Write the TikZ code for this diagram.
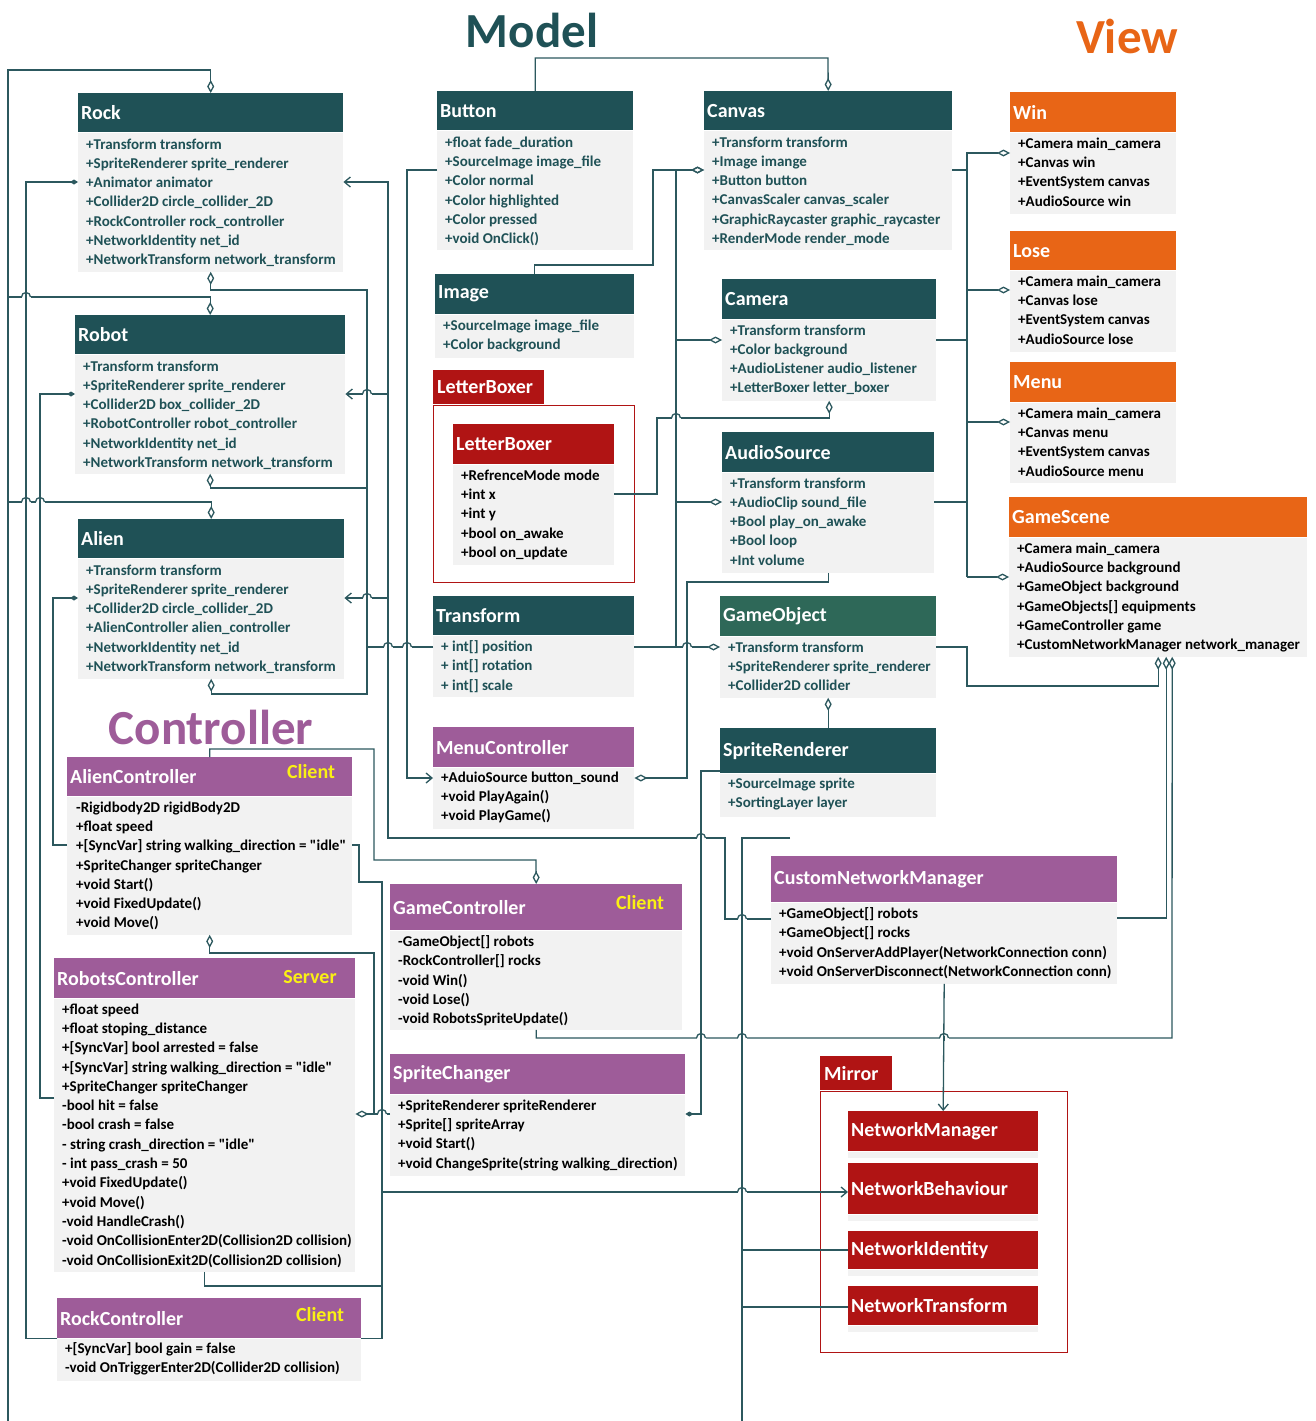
\documentclass[tikz,border=0pt]{standalone}
\usepackage{fontspec}
\setmainfont{Carlito}[Ligatures=TeXOff]
\usepackage{xcolor}
\usepackage{tikz}
\usetikzlibrary{arrows.meta, positioning, calc}
\definecolor{modelteal}{RGB}{31, 81, 86}
\definecolor{gogreen}{RGB}{46, 104, 88}
\definecolor{vieworange}{RGB}{232, 101, 22}
\definecolor{mirrorred}{RGB}{176, 20, 20}
\definecolor{ctlpurple}{RGB}{158, 92, 153}
\definecolor{bodygray}{RGB}{242, 242, 242}
\definecolor{linecol}{RGB}{44, 88, 94}
\definecolor{clientyellow}{RGB}{250, 240, 20}

\begin{document}
\begin{tikzpicture}[x=1pt, y=-1pt,
    hdr/.style={anchor=north west, inner xsep=3pt, inner ysep=0pt, align=left, text=white, font=\fontsize{20}{24}\selectfont\bfseries},
    body/.style={anchor=north west, fill=bodygray, inner sep=0pt},
    attrs/.style={anchor=north west, inner sep=0pt, align=left, font=\fontsize{15}{19.3}\selectfont\bfseries},
    grouptag/.style={anchor=north west, fill=mirrorred, text=white, inner xsep=4pt, inner ysep=0pt, align=left, font=\fontsize{20}{24}\selectfont\bfseries},
    redframe/.style={draw=mirrorred, line width=0.8pt},
    grouptitle/.style={font=\fontsize{49}{55}\selectfont\bfseries, inner sep=0pt},
    client/.style={text=clientyellow, font=\fontsize{20}{24}\selectfont\bfseries, inner sep=0pt},
    conn/.style={draw=linecol, line width=1.3pt},
    aggr/.style={conn, -{Diamond[open, length=13pt, width=7pt]}},
    comp/.style={conn, -{Diamond[length=8pt, width=5pt]}},
    arr/.style={conn, -{Straight Barb[length=6pt, width=10pt]}}
]
    \fill[white] (0,0) rectangle (1316,1421);
    \useasboundingbox (0,0) rectangle (1316,1421);

    % Group titles
    \node[grouptitle, text=modelteal] (modelT) at (532,30) {Model};
    \node[grouptitle, text=vieworange] (viewT) at (1127,36) {View};
    \node[grouptitle, text=ctlpurple] (ctlT) at (211,727) {Controller};

    % ---------- Model ----------
    \node[hdr, fill=modelteal, text width=259pt, minimum height=39pt] (rock) at (78,93) {Rock};
    \node[body, minimum width=265pt, minimum height=139pt] (rockB) at (rock.south west) {};
    \node[attrs, text=modelteal] (rockA) at ([shift={(8,6)}]rockB.north west) {+Transform transform\\+SpriteRenderer sprite\_renderer\\+Animator animator\\+Collider2D circle\_collider\_2D\\+RockController rock\_controller\\+NetworkIdentity net\_id\\+NetworkTransform network\_transform};

    \node[hdr, fill=modelteal, text width=264pt, minimum height=39pt] (robot) at (75,315) {Robot};
    \node[body, minimum width=270pt, minimum height=119pt] (robotB) at (robot.south west) {};
    \node[attrs, text=modelteal] (robotA) at ([shift={(8,6)}]robotB.north west) {+Transform transform\\+SpriteRenderer sprite\_renderer\\+Collider2D box\_collider\_2D\\+RobotController robot\_controller\\+NetworkIdentity net\_id\\+NetworkTransform network\_transform};

    \node[hdr, fill=modelteal, text width=260pt, minimum height=39pt] (alien) at (78,519) {Alien};
    \node[body, minimum width=266pt, minimum height=120pt] (alienB) at (alien.south west) {};
    \node[attrs, text=modelteal] (alienA) at ([shift={(8,6)}]alienB.north west) {+Transform transform\\+SpriteRenderer sprite\_renderer\\+Collider2D circle\_collider\_2D\\+AlienController alien\_controller\\+NetworkIdentity net\_id\\+NetworkTransform network\_transform};

    \node[hdr, fill=modelteal, text width=190pt, minimum height=39pt] (button) at (437,91) {Button};
    \node[body, minimum width=196pt, minimum height=119pt] (buttonB) at (button.south west) {};
    \node[attrs, text=modelteal] (buttonA) at ([shift={(8,6)}]buttonB.north west) {+float fade\_duration\\+SourceImage image\_file\\+Color normal\\+Color highlighted\\+Color pressed\\+void OnClick()};

    \node[hdr, fill=modelteal, text width=193pt, minimum height=40pt] (image) at (435,274) {Image};
    \node[body, minimum width=199pt, minimum height=43pt] (imageB) at (image.south west) {};
    \node[attrs, text=modelteal] (imageA) at ([shift={(8,5)}]imageB.north west) {+SourceImage image\_file\\+Color background};

    \node[hdr, fill=modelteal, text width=195pt, minimum height=39pt] (transform) at (433,596) {Transform};
    \node[body, minimum width=201pt, minimum height=61pt] (transformB) at (transform.south west) {};
    \node[attrs, text=modelteal] (transformA) at ([shift={(8,5)}]transformB.north west) {+ int[] position\\+ int[] rotation\\+ int[] scale};

    \node[hdr, fill=modelteal, text width=242pt, minimum height=39pt] (canvas) at (704,91) {Canvas};
    \node[body, minimum width=248pt, minimum height=119pt] (canvasB) at (canvas.south west) {};
    \node[attrs, text=modelteal] (canvasA) at ([shift={(8,6)}]canvasB.north west) {+Transform transform\\+Image imange\\+Button button\\+CanvasScaler canvas\_scaler\\+GraphicRaycaster graphic\_raycaster\\+RenderMode render\_mode};

    \node[hdr, fill=modelteal, text width=208pt, minimum height=40pt] (camera) at (722,279) {Camera};
    \node[body, minimum width=214pt, minimum height=81pt] (cameraB) at (camera.south west) {};
    \node[attrs, text=modelteal] (cameraA) at ([shift={(8,5)}]cameraB.north west) {+Transform transform\\+Color background\\+AudioListener audio\_listener\\+LetterBoxer letter\_boxer};

    \node[hdr, fill=modelteal, text width=206pt, minimum height=40pt] (audiosrc) at (722,432) {AudioSource};
    \node[body, minimum width=212pt, minimum height=100pt] (audiosrcB) at (audiosrc.south west) {};
    \node[attrs, text=modelteal] (audiosrcA) at ([shift={(8,5)}]audiosrcB.north west) {+Transform transform\\+AudioClip sound\_file\\+Bool play\_on\_awake\\+Bool loop\\+Int volume};

    \node[hdr, fill=gogreen, text width=210pt, minimum height=40pt] (gameobj) at (720,596) {GameObject};
    \node[body, minimum width=216pt, minimum height=61pt] (gameobjB) at (gameobj.south west) {};
    \node[attrs, text=modelteal] (gameobjA) at ([shift={(8,5)}]gameobjB.north west) {+Transform transform\\+SpriteRenderer sprite\_renderer\\+Collider2D collider};

    \node[hdr, fill=modelteal, text width=210pt, minimum height=45pt] (spriterend) at (720,728) {SpriteRenderer};
    \node[body, minimum width=216pt, minimum height=43pt] (spriterendB) at (spriterend.south west) {};
    \node[attrs, text=modelteal] (spriterendA) at ([shift={(8,4)}]spriterendB.north west) {+SourceImage sprite\\+SortingLayer layer};

    % LetterBoxer package
    \node[grouptag, text width=103pt, minimum height=34pt] (lbtag) at (433,370) {LetterBoxer};
    \draw[redframe] (433,405) rectangle (634,582);
    \node[hdr, fill=mirrorred, text width=155pt, minimum height=40pt] (letterbox) at (453,424) {LetterBoxer};
    \node[body, minimum width=161pt, minimum height=100pt] (letterboxB) at (letterbox.south west) {};
    \node[attrs] (letterboxA) at ([shift={(8,5)}]letterboxB.north west) {+RefrenceMode mode\\+int x\\+int y\\+bool on\_awake\\+bool on\_update};

    % ---------- View ----------
    \node[hdr, fill=vieworange, text width=160pt, minimum height=40pt] (win) at (1010,92) {Win};
    \node[body, minimum width=166pt, minimum height=81pt] (winB) at (win.south west) {};
    \node[attrs] (winA) at ([shift={(8,5)}]winB.north west) {+Camera main\_camera\\+Canvas win\\+EventSystem canvas\\+AudioSource win};

    \node[hdr, fill=vieworange, text width=160pt, minimum height=39pt] (lose) at (1010,231) {Lose};
    \node[body, minimum width=166pt, minimum height=81pt] (loseB) at (lose.south west) {};
    \node[attrs] (loseA) at ([shift={(8,5)}]loseB.north west) {+Camera main\_camera\\+Canvas lose\\+EventSystem canvas\\+AudioSource lose};

    \node[hdr, fill=vieworange, text width=160pt, minimum height=40pt] (menu) at (1010,362) {Menu};
    \node[body, minimum width=166pt, minimum height=80pt] (menuB) at (menu.south west) {};
    \node[attrs] (menuA) at ([shift={(8,5)}]menuB.north west) {+Camera main\_camera\\+Canvas menu\\+EventSystem canvas\\+AudioSource menu};

    \node[hdr, fill=vieworange, text width=292pt, minimum height=40pt] (gamescene) at (1009,497) {GameScene};
    \node[body, minimum width=298pt, minimum height=119pt] (gamesceneB) at (gamescene.south west) {};
    \node[attrs] (gamesceneA) at ([shift={(8,5)}]gamesceneB.north west) {+Camera main\_camera\\+AudioSource background\\+GameObject background\\+GameObjects[] equipments\\+GameController game\\+CustomNetworkManager network\_manager};

    % ---------- Controller ----------
    \node[hdr, fill=ctlpurple, text width=279pt, minimum height=39pt] (alienctl) at (67,757) {AlienController};
    \node[client] (alienctlC) at (311,772) {Client};
    \node[body, minimum width=285pt, minimum height=138pt] (alienctlB) at (alienctl.south west) {};
    \node[attrs] (alienctlA) at ([shift={(9,5)}]alienctlB.north west) {-Rigidbody2D rigidBody2D\\+float speed\\+[SyncVar] string walking\_direction = "idle"\\+SpriteChanger spriteChanger\\+void Start()\\+void FixedUpdate()\\+void Move()};

    \node[hdr, fill=ctlpurple, text width=295pt, minimum height=40pt] (robotsctl) at (54,958) {RobotsController};
    \node[client] (robotsctlC) at (310,977) {Server};
    \node[body, minimum width=301pt, minimum height=273pt] (robotsctlB) at (robotsctl.south west) {};
    \node[attrs] (robotsctlA) at ([shift={(8,5)}]robotsctlB.north west) {+float speed\\+float stoping\_distance\\+[SyncVar] bool arrested = false\\+[SyncVar] string walking\_direction = "idle"\\+SpriteChanger spriteChanger\\-bool hit = false\\-bool crash = false\\- string crash\_direction = "idle"\\- int pass\_crash = 50\\+void FixedUpdate()\\+void Move()\\-void HandleCrash()\\-void OnCollisionEnter2D(Collision2D collision)\\-void OnCollisionExit2D(Collision2D collision)};

    \node[hdr, fill=ctlpurple, text width=298pt, minimum height=40pt] (rockctl) at (57,1298) {RockController};
    \node[client] (rockctlC) at (320,1315) {Client};
    \node[body, minimum width=304pt, minimum height=42pt] (rockctlB) at (rockctl.south west) {};
    \node[attrs] (rockctlA) at ([shift={(8,4)}]rockctlB.north west) {+[SyncVar] bool gain = false\\-void OnTriggerEnter2D(Collider2D collision)};

    \node[hdr, fill=ctlpurple, text width=195pt, minimum height=40pt] (menuctl) at (433,727) {MenuController};
    \node[body, minimum width=201pt, minimum height=61pt] (menuctlB) at (menuctl.south west) {};
    \node[attrs] (menuctlA) at ([shift={(8,4)}]menuctlB.north west) {+AduioSource button\_sound\\+void PlayAgain()\\+void PlayGame()};

    \node[hdr, fill=ctlpurple, text width=286pt, minimum height=46pt] (gamectl) at (390,884) {GameController};
    \node[client] (gamectlC) at (640,903) {Client};
    \node[body, minimum width=292pt, minimum height=99pt] (gamectlB) at (gamectl.south west) {};
    \node[attrs] (gamectlA) at ([shift={(8,5)}]gamectlB.north west) {-GameObject[] robots\\-RockController[] rocks\\-void Win()\\-void Lose()\\-void RobotsSpriteUpdate()};

    \node[hdr, fill=ctlpurple, text width=289pt, minimum height=40pt] (spritechg) at (390,1054) {SpriteChanger};
    \node[body, minimum width=295pt, minimum height=81pt] (spritechgB) at (spritechg.south west) {};
    \node[attrs] (spritechgA) at ([shift={(8,5)}]spritechgB.north west) {+SpriteRenderer spriteRenderer\\+Sprite[] spriteArray\\+void Start()\\+void ChangeSprite(string walking\_direction)};

    \node[hdr, fill=ctlpurple, text width=340pt, minimum height=46pt] (netmgr) at (771,856) {CustomNetworkManager};
    \node[body, minimum width=346pt, minimum height=81pt] (netmgrB) at (netmgr.south west) {};
    \node[attrs] (netmgrA) at ([shift={(8,5)}]netmgrB.north west) {+GameObject[] robots\\+GameObject[] rocks\\+void OnServerAddPlayer(NetworkConnection conn)\\+void OnServerDisconnect(NetworkConnection conn)};

    % ---------- Mirror package ----------
    \node[grouptag, text width=64pt, minimum height=34pt] (mirrortag) at (820,1056) {Mirror};
    \draw[redframe] (820,1091) rectangle (1067,1352);
    \node[hdr, fill=mirrorred, text width=184pt, minimum height=40pt] (nmgr) at (848,1111) {NetworkManager};
    \node[body, minimum width=190pt, minimum height=6pt] (nmgrB) at (nmgr.south west) {};
    \node[hdr, fill=mirrorred, text width=184pt, minimum height=51pt] (nbehav) at (848,1163) {NetworkBehaviour};
    \node[body, minimum width=190pt, minimum height=6pt] (nbehavB) at (nbehav.south west) {};
    \node[hdr, fill=mirrorred, text width=184pt, minimum height=38pt] (nident) at (848,1231) {NetworkIdentity};
    \node[body, minimum width=190pt, minimum height=6pt] (nidentB) at (nident.south west) {};
    \node[hdr, fill=mirrorred, text width=184pt, minimum height=39pt] (ntrans) at (848,1286) {NetworkTransform};
    \node[body, minimum width=190pt, minimum height=6pt] (ntransB) at (ntrans.south west) {};

    % ---------- Connectors ----------
    % Rock, Robot, Alien tops
    \coordinate (leftbus) at (8,1421);
    \draw[aggr] (leftbus) -- (8,70) -| (rock.north);
    \draw[aggr] (8,297) -| (robot.north);
    \draw[aggr] (8,502) -| (alien.north);

    % controllers owned by their objects
    \draw[comp] (rockctl.south west) -| (26,182) -- (rockB.west |- 0,182);
    \draw[comp] (robotsctlB.west |- 0,1098) -| (40,394) -- (robotB.west |- 0,394);
    \draw[comp] (alienctlB.west |- 0,845) -| (53,598) -- (alienB.west |- 0,598);

    % Transform into Rock, Robot, Alien
    \draw[aggr] (transformB.west |- 0,647) -- (367,647) |- (rockB.south |- 0,290) -- (rockB.south);
    \draw[aggr] (367,488) -| (robotB.south);
    \draw[aggr] (367,647) |- (alienB.south |- 0,694) -- (alienB.south);

    % CustomNetworkManager into Rock, Robot, Alien
    \draw[arr] (netmgrB.west |- 0,919) -- (725,919) |- (388,838) |- (rockB.east |- 0,182);
    \draw[arr] (388,394) -- (robotB.east |- 0,394);
    \draw[arr] (388,598) -- (alienB.east |- 0,598);

    % Button, Image, Transform into Canvas, Camera, AudioSource, GameObject
    \draw[arr] (buttonB.west |- 0,170) -| (407,778) -- (menuctlB.west |- 0,778);
    \draw[aggr] (button.north) |- (828,58) -- (canvas.north);
    \draw[aggr] (image.north) |- (653,265) |- (canvasB.west |- 0,170);
    \draw[aggr] (transformB.east |- 0,647) -- (676,647) |- (canvasB.west |- 0,170);
    \draw[aggr] (676,340) -- (cameraB.west |- 0,340);
    \draw[aggr] (676,502) -- (audiosrcB.west |- 0,502);
    \draw[aggr] (676,647) -- (gameobjB.west |- 0,647);
    \draw[aggr] (letterboxB.east |- 0,494) -| (657,418) -| (cameraB.south);
    \draw[aggr] (audiosrcB.south) |- (687,582) |- (menuctlB.east |- 0,778);
    \draw[aggr] (spriterend.north) -- (gameobjB.south);
    \draw[comp] (spriterend.west |- 0,771) -- (701,771) |- (spritechgB.east |- 0,1114);

    % Model into View
    \draw[conn] (canvasB.east |- 0,170) -- (967,170);
    \draw[conn] (cameraB.east |- 0,340) -- (967,340);
    \draw[conn] (audiosrcB.east |- 0,502) -- (967,502);
    \draw[aggr] (967,577) |- (winB.west |- 0,153);
    \draw[aggr] (967,290) -- (loseB.west |- 0,290);
    \draw[aggr] (967,422) -- (menuB.west |- 0,422);
    \draw[aggr] (967,577) -- (gamesceneB.west |- 0,577);
    \draw[aggr] (gameobjB.east |- 0,647) -| (967,686) -| (gamesceneB.south);
    \draw[aggr] (netmgrB.east |- 0,918) -| ([xshift=8pt]gamesceneB.south);
    \draw[aggr] (gamectlB.south) |- (1172,1038) -- ([xshift=14pt]gamesceneB.south);

    % Controllers
    \draw[aggr] (alienctl.north) |- (374,749) |- (536,860) -- (gamectl.north);
    \draw[aggr] (spritechgB.west |- 0,1114) -- (374,1114) |- (alienctlB.south |- 0,953) -- (alienctlB.south);
    \draw[aggr] (374,1114) -- (robotsctlB.east |- 0,1114);
    \draw[arr] (alienctlB.east |- 0,845) -- (359,845) |- (382,882) -- (382,1192) -- (nbehav.west |- 0,1192);
    \draw[conn] (robotsctlB.south) |- (382,1286);
    \draw[conn] (rockctl.south east) -| (382,1192);

    % Mirror
    \draw[arr] (netmgrB.south) -- (nmgr.north);
    \coordinate (netbus) at (742,1421);
    \coordinate (netbustop) at (790,838);
    \draw[conn] (netbustop) -| (netbus);
    \draw[conn] (742,1250) -- (nident.west |- 0,1250);
    \draw[conn] (742,1307) -- (ntrans.west |- 0,1307);

    % line hops where connectors cross
    \foreach \hx/\hy in {26/297, 26/502, 40/502, 367/394, 367/598, 388/647, 407/647,
                         687/647, 676/418, 701/838, 742/919, 701/1038, 742/1038,
                         944/1038, 382/1114, 742/1192} {
        \fill[white] (\hx-4.5,\hy-1.5) rectangle (\hx+4.5,\hy+1.5);
        \draw[conn] (\hx,\hy-2.5) -- (\hx,\hy+2.5);
        \draw[conn] (\hx-4.5,\hy) arc[start angle=180, end angle=360, radius=4.5];
    }
\end{tikzpicture}
\end{document}
